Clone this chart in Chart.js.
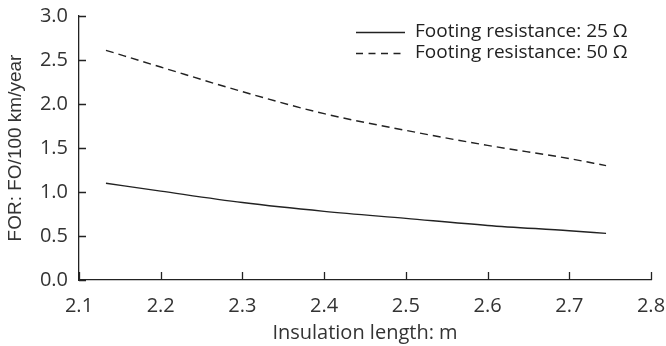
<!DOCTYPE html>
<html>
<head>
<meta charset="utf-8">
<script src="https://cdn.jsdelivr.net/npm/chart.js@4.4.1/dist/chart.umd.min.js"></script>
<style>
  html, body { margin: 0; padding: 0; background: #fff; }
  #wrap { width: 666px; height: 346px; }
</style>
</head>
<body>
<div id="wrap"><canvas id="chart"></canvas></div>
<script>
// Insulation length (m) and flashover rate for two footing resistances
const insulationLength = [2.133, 2.2, 2.3, 2.4, 2.5, 2.6, 2.7, 2.745];
const forFooting25 = [1.10, 1.01, 0.88, 0.78, 0.70, 0.62, 0.56, 0.53];
const forFooting50 = [2.61, 2.42, 2.14, 1.89, 1.70, 1.53, 1.38, 1.30];

// Axis ticks
const xTicks = [2.1, 2.2, 2.3, 2.4, 2.5, 2.6, 2.7, 2.8];
const yTicks = [0, 0.5, 1.0, 1.5, 2.0, 2.5, 3.0];

const seriesLabels = ["Footing resistance: 25 Ω", "Footing resistance: 50 Ω"];
const ink = "#222";
const dash = [8, 5];

const tickFont = { family: "'Open Sans'", size: 20 };

// ticks point inward, as in the original figure
const innerTicks = {
  id: "innerTicks",
  afterDraw(chart) {
    const { ctx, scales: { x, y } } = chart;
    ctx.save();
    ctx.strokeStyle = ink;
    ctx.lineWidth = 1.3;
    ctx.beginPath();
    xTicks.forEach(v => {
      const px = Math.round(x.getPixelForValue(v)) + 0.5;
      ctx.moveTo(px, y.bottom);
      ctx.lineTo(px, y.bottom - 8);
    });
    yTicks.forEach(v => {
      const py = Math.round(y.getPixelForValue(v)) + 0.5;
      ctx.moveTo(x.left, py);
      ctx.lineTo(x.left + 7, py);
    });
    ctx.stroke();
    ctx.restore();
  }
};

// legend in the upper right corner
const cornerLegend = {
  id: "cornerLegend",
  afterDraw(chart) {
    const { ctx } = chart;
    ctx.save();
    ctx.font = "19px 'Open Sans'";
    ctx.fillStyle = ink;
    ctx.strokeStyle = ink;
    ctx.lineWidth = 1.3;
    ctx.textBaseline = "middle";
    const rows = [32, 53];
    seriesLabels.forEach((label, i) => {
      ctx.setLineDash(i === 0 ? [] : [7, 5.5]);
      ctx.beginPath();
      ctx.moveTo(356, rows[i] + 0.5);
      ctx.lineTo(405, rows[i] + 0.5);
      ctx.stroke();
      ctx.setLineDash([]);
      ctx.fillText(label, 415, rows[i]);
    });
    ctx.restore();
  }
};

new Chart(document.getElementById("chart"), {
  type: "line",
  data: {
    datasets: [
      {
        label: seriesLabels[0],
        data: insulationLength.map((x, i) => ({ x, y: forFooting25[i] })),
        borderColor: ink,
        borderWidth: 1.4,
        pointRadius: 0,
        cubicInterpolationMode: "monotone",
      },
      {
        label: seriesLabels[1],
        data: insulationLength.map((x, i) => ({ x, y: forFooting50[i] })),
        borderColor: ink,
        borderWidth: 1.4,
        borderDash: dash,
        pointRadius: 0,
        cubicInterpolationMode: "monotone",
      }
    ]
  },
  options: {
    responsive: true,
    maintainAspectRatio: false,
    animation: false,
    layout: { padding: { left: 0, top: 16, right: 15, bottom: 0 } },
    plugins: {
      legend: { display: false },
      tooltip: { enabled: false }
    },
    scales: {
      x: {
        type: "linear",
        min: 2.1,
        max: 2.8,
        afterBuildTicks: s => { s.ticks = xTicks.map(value => ({ value })); },
        afterFit: s => { s.height = 66; s.paddingLeft = 0; s.paddingRight = 0; },
        grid: { display: false, drawTicks: false },
        border: { display: true, color: ink, width: 1.3 },
        ticks: {
          color: "#333",
          font: tickFont,
          padding: 14,
          maxRotation: 0,
          callback: v => v.toFixed(1)
        },
        title: {
          display: true,
          text: "Insulation length: m",
          color: "#333",
          font: { family: "'Open Sans'", size: 20 },
          padding: { top: 0, bottom: 1 }
        }
      },
      y: {
        min: 0,
        max: 3,
        afterBuildTicks: s => { s.ticks = yTicks.map(value => ({ value })); },
        afterFit: s => { s.width = 79; s.paddingTop = 0; s.paddingBottom = 0; },
        grid: { display: false, drawTicks: false },
        border: { display: true, color: ink, width: 1.3 },
        ticks: {
          color: "#333",
          font: tickFont,
          padding: 11,
          callback: v => v.toFixed(1)
        },
        title: {
          display: true,
          text: "FOR: FO/100 km/year",
          color: "#333",
          font: { family: "'Liberation Sans'", size: 19 },
          padding: { top: 4, bottom: 0 }
        }
      }
    }
  },
  plugins: [innerTicks, cornerLegend]
});
</script>
</body>
</html>
